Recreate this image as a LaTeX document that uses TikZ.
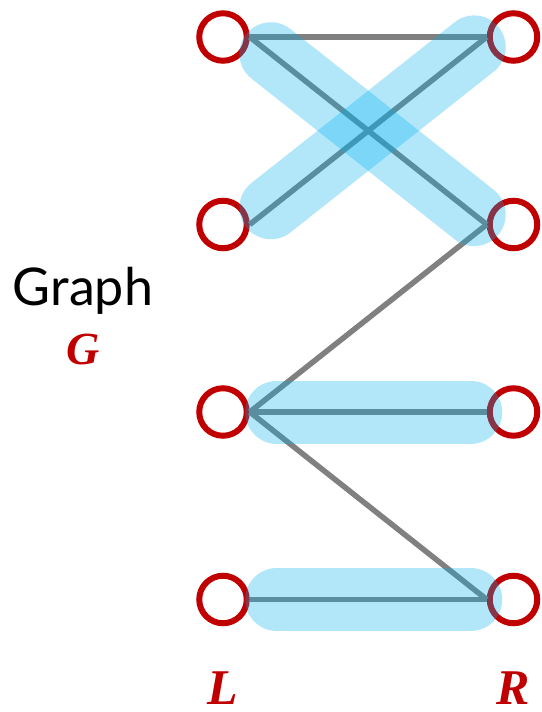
\documentclass[tikz,border=0pt]{standalone}
\usepackage{fontspec}
\setmainfont{Lato}
\newfontfamily\letterfont{Liberation Serif}
\usepackage{xcolor}
\usepackage{tikz}
\usetikzlibrary{positioning}

\definecolor{vred}{RGB}{192,0,0}
\definecolor{hlblue}{RGB}{0,176,240}

\begin{document}
\begin{tikzpicture}[
    x=1pt, y=1pt,
    node distance=134pt and 237pt,
    vert/.style={draw=vred, line width=6pt, circle, minimum size=47.5pt, inner sep=0pt},
    edge/.style={draw=gray, line width=5.5pt},
    match/.style={draw=hlblue, draw opacity=0.3, line width=63pt, line cap=round, shorten <=27pt, shorten >=16pt},
    side/.style={font=\letterfont\bfseries\itshape\fontsize{50}{50}\selectfont, text=vred, anchor=base, inner sep=0pt, text depth=0pt}
  ]
    \useasboundingbox (0,0) rectangle (541,-712);

    % Left vertices
    \node[vert] (l1) at (223,-37) {};
    \node[vert, below=of l1] (l2) {};
    \node[vert, below=of l2] (l3) {};
    \node[vert, below=of l3] (l4) {};

    % Right vertices
    \node[vert, right=of l1] (r1) {};
    \node[vert, right=of l2] (r2) {};
    \node[vert, right=of l3] (r3) {};
    \node[vert, right=of l4] (r4) {};

    % Edges
    \draw[edge] (l1.east) -- (r1.west);
    \draw[edge] (l1.east) -- (r2.west);
    \draw[edge] (l2.east) -- (r1.west);
    \draw[edge] (l3.east) -- (r2.west);
    \draw[edge] (l3.east) -- (r3.west);
    \draw[edge] (l3.east) -- (r4.west);
    \draw[edge] (l4.east) -- (r4.west);

    % Matching
    \draw[match] (l1.east) -- (r2.west);
    \draw[match] (l2.east) -- (r1.west);
    \draw[match] (l3.east) -- (r3.west);
    \draw[match] (l4.east) -- (r4.west);

    % Labels
    \node[anchor=base, font=\fontsize{52}{52}\selectfont] (graph) at (83,-305) {Graph};
    \node[side, font=\letterfont\bfseries\itshape\fontsize{46}{46}\selectfont] (gname) at (83,-364) {G};
    \node[side] (lname) at (l4 |- 0,-704) {L};
    \node[side] (rname) at (r4 |- 0,-704) {R};

  \end{tikzpicture}
\end{document}
